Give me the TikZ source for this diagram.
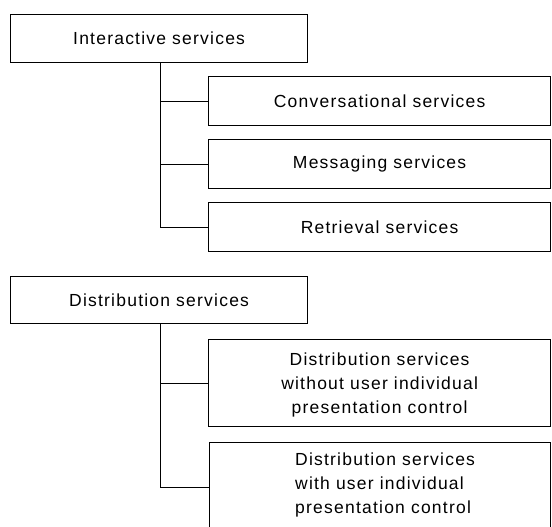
\documentclass[tikz,border=0pt]{standalone}
\usepackage{fontspec}
\setmainfont[LetterSpace=7]{Liberation Sans}
\begin{document}
\begin{tikzpicture}[x=1pt,y=1pt,
  box/.style={draw, line width=1.2pt, anchor=north west, inner sep=0pt,
    font=\fontsize{17.5}{24}\selectfont},
  txt/.style={anchor=north, inner sep=0pt, font=\fontsize{17.5}{24}\selectfont},
  conn/.style={line width=0.8pt}]
\clip (0,0) rectangle (552,-527);
\fill[white] (0,0) rectangle (552,-527);
% top group
\node[box, minimum width=297pt, minimum height=48pt] (IA) at (10,-14) {Interactive services};
\node[box, minimum width=342pt, minimum height=49pt] (C1) at (208,-76) {Conversational services};
\node[box, minimum width=342pt, minimum height=49pt] (C2) at (208,-139) {Messaging services};
\node[box, minimum width=342pt, minimum height=49pt] (C3) at (208,-202) {Retrieval services};
\coordinate (s1) at (160,0);
\draw[conn] (IA.south -| s1) |- (C3.west);
\draw[conn] (C1.west -| s1) -- (C1.west);
\draw[conn] (C2.west -| s1) -- (C2.west);
% bottom group
\node[box, minimum width=297pt, minimum height=47pt] (DS) at (10,-276) {Distribution services};
\node[box, minimum width=342pt, minimum height=87pt,
  label={[txt, align=center, yshift=-14pt]north:Distribution services\\without user individual\\presentation control}]
  (D1) at (208,-339) {};
\node[box, minimum width=341pt, minimum height=110pt,
  label={[txt, align=left, yshift=-11pt, xshift=5pt]north:Distribution services\\with user individual\\presentation control}]
  (D2) at (209,-442) {};
\coordinate (s2) at (160,0);
\draw[conn] (DS.south -| s2) |- (D2.west |- 0,-487) coordinate (e2);
\draw[conn] (D1.west -| s2) -- (D1.west);
\end{tikzpicture}
\end{document}
